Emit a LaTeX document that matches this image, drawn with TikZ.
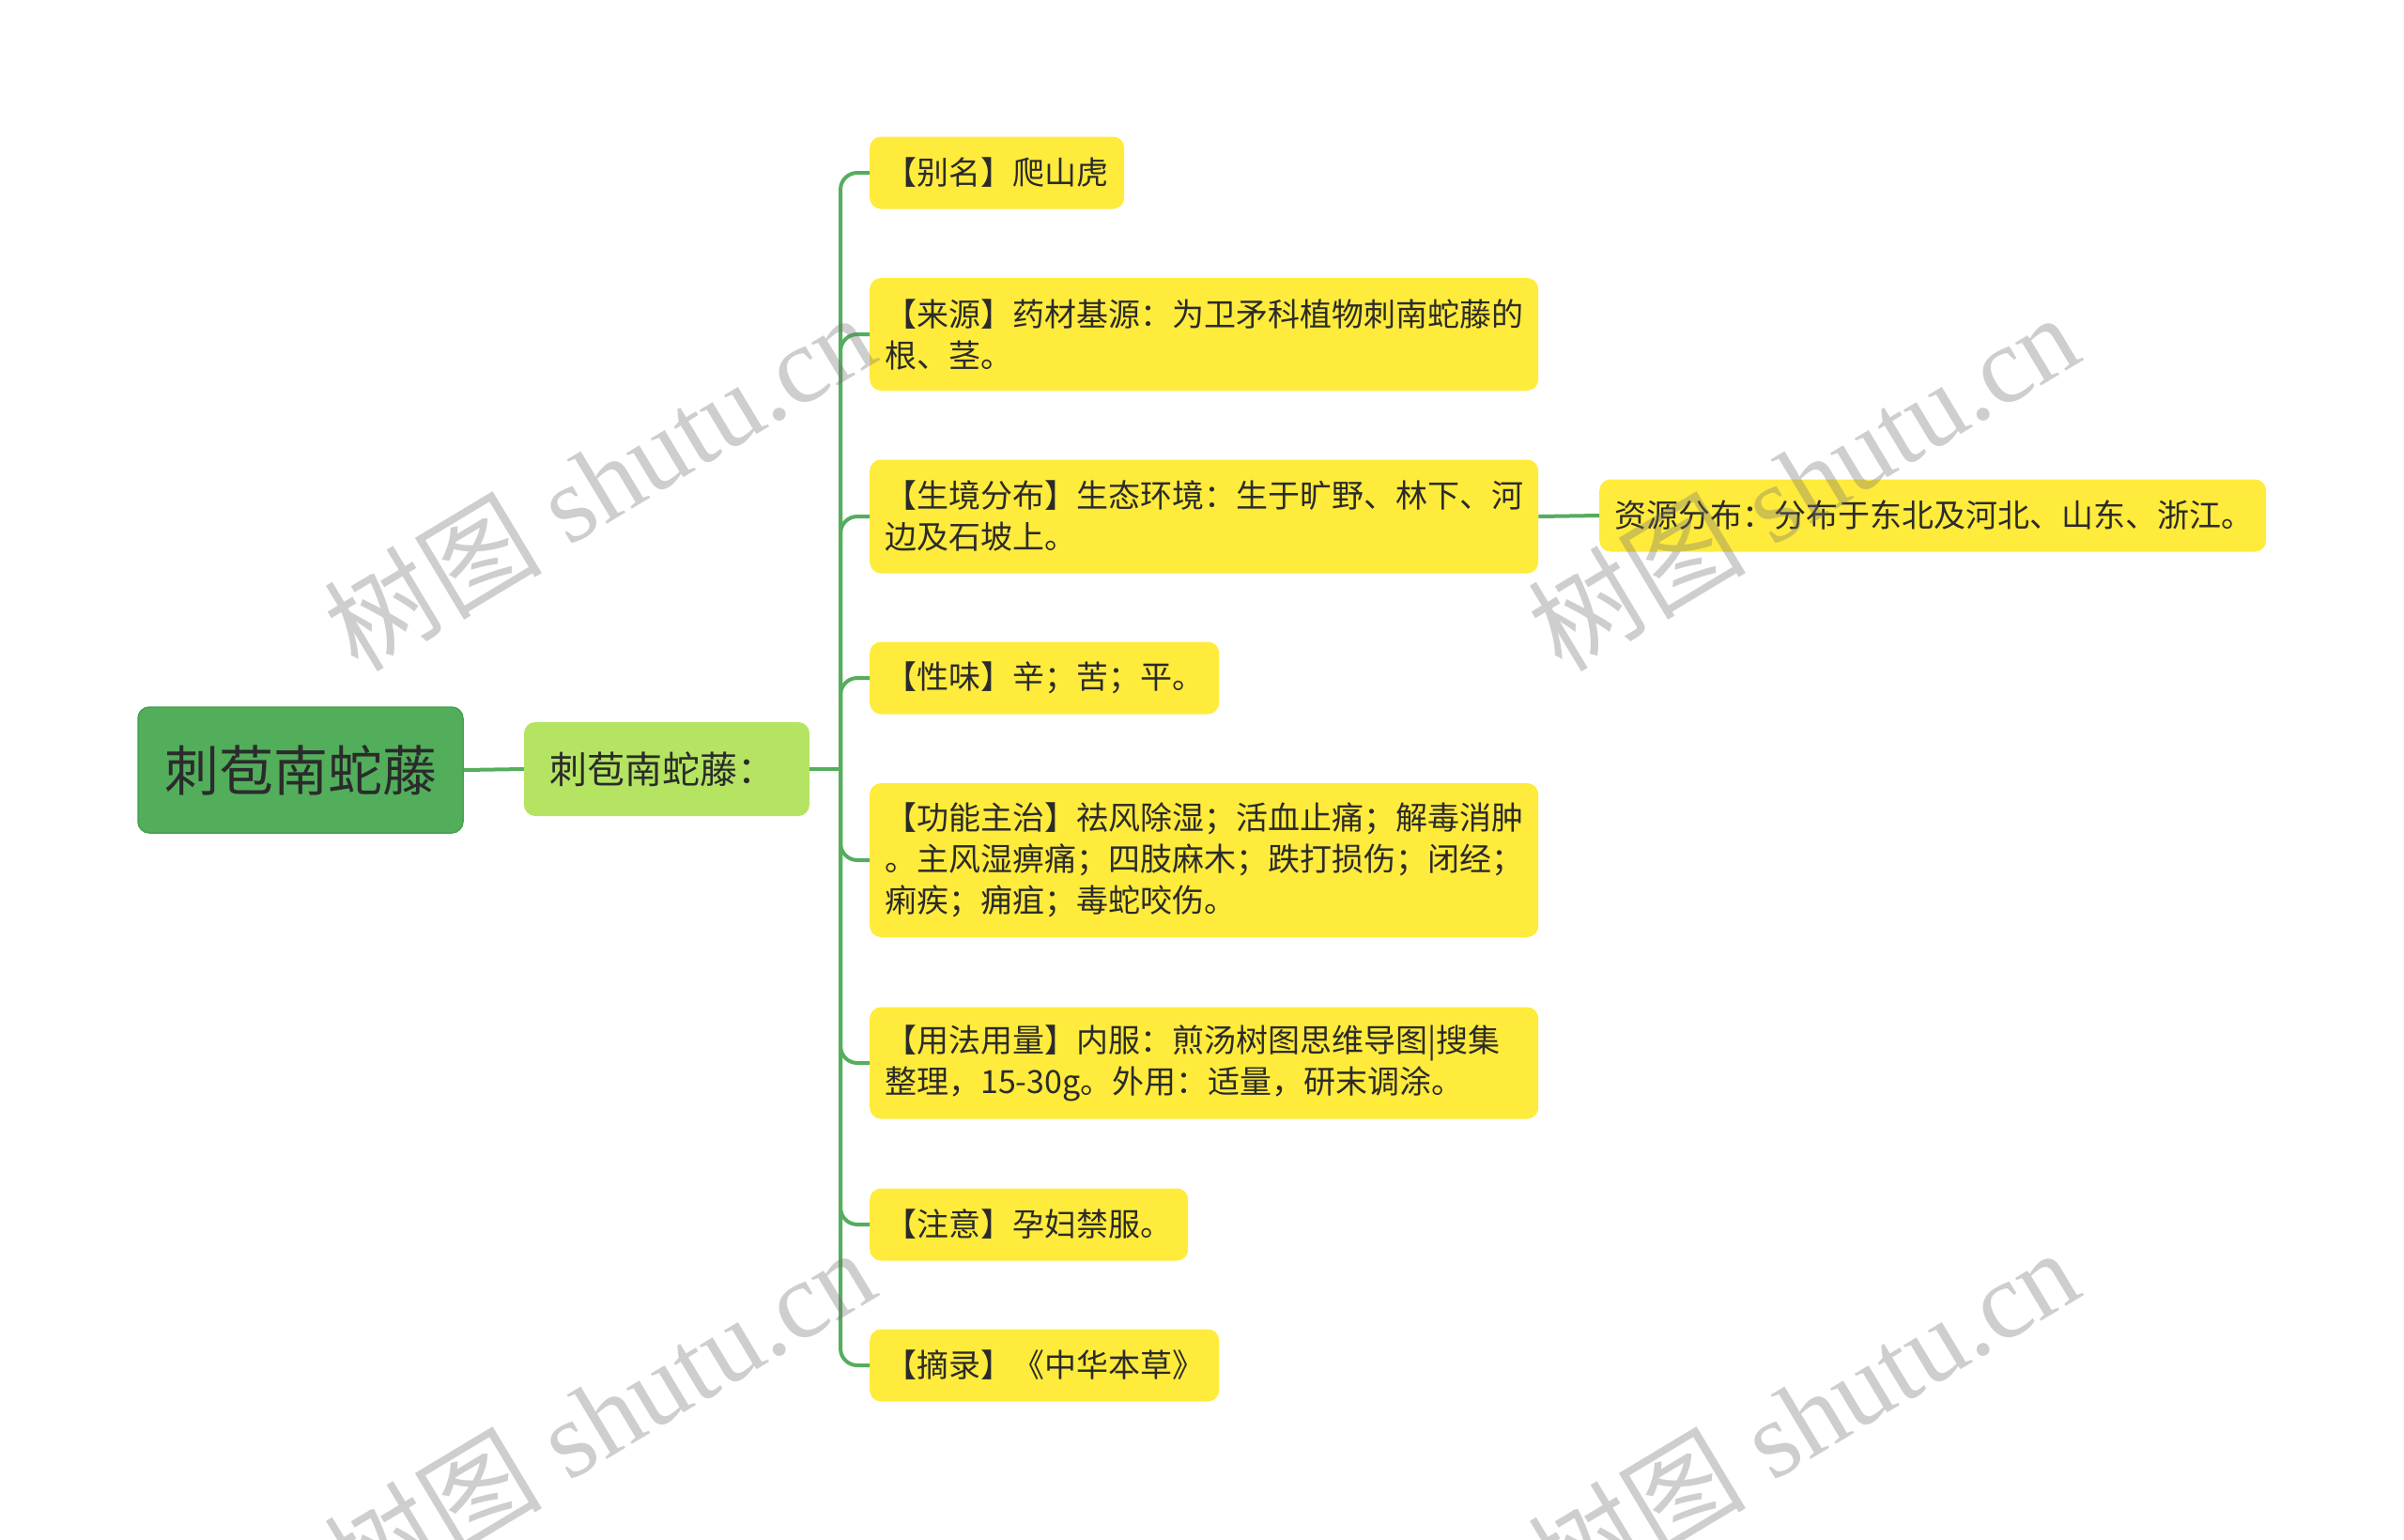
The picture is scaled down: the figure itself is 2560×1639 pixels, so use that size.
\documentclass[tikz,border=0pt]{standalone}
\usepackage{fontspec}
\setmainfont{Noto Sans CJK SC}
\newfontfamily\wmlatin{Liberation Serif}
\newfontfamily\wmcjk{Noto Sans CJK SC}
\definecolor{leafyellow}{HTML}{FFEB3B}
\definecolor{rootgreen}{HTML}{52AE5B}
\definecolor{rootborder}{HTML}{46A04F}
\definecolor{subgreen}{HTML}{B5E462}
\definecolor{linegreen}{HTML}{55AD5E}
\definecolor{textdark}{HTML}{2B2B2B}
\begin{document}
\begin{tikzpicture}[x=1pt,y=-1pt,
  leaf/.style={rectangle, rounded corners=12pt, fill=leafyellow, anchor=west,
    inner xsep=16pt, inner ysep=0pt, align=left, text=textdark,
    font=\fontsize{34}{44}\selectfont},
  rootbox/.style={rectangle, rounded corners=12pt, fill=rootgreen, draw=rootborder, line width=1.5pt,
    inner sep=0pt, text=textdark, font=\fontsize{58}{64}\selectfont},
  subbox/.style={rectangle, rounded corners=12pt, fill=subgreen,
    inner sep=0pt, text=textdark, font=\fontsize{40}{48}\selectfont},
  conn/.style={draw=linegreen, line width=4pt, rounded corners=18pt},
  wm/.style={text=black!55, opacity=0.35, rotate=31, inner sep=0pt}
]
\useasboundingbox (0,0) rectangle (2560,1639);

% central nodes
\node[rootbox, minimum width=346pt, minimum height=134pt] (root) at (320,820) {刺苞南蛇藤};
\node[subbox, minimum width=304pt, minimum height=100pt] (sub) at (710,819) {\hspace*{-10pt}刺苞南蛇藤：};

% leaves
\node[leaf, text width=239pt, minimum height=77pt] (c1) at (926,184) {【别名】爬山虎};
\node[leaf, text width=680pt, minimum height=120pt] (c2) at (926,356) {【来源】药材基源：为卫矛科植物刺南蛇藤的\\根、茎。};
\node[leaf, text width=680pt, minimum height=121pt] (c3) at (926,550) {【生境分布】生态环境：生于旷野、林下、河\\边及石坡上。};
\node[leaf, text width=340pt, minimum height=77pt] (c4) at (926,722) {【性味】辛；苦；平。};
\node[leaf, text width=680pt, minimum height=164pt] (c5) at (926,916) {【功能主治】祛风除湿；活血止痛；解毒消肿\\。主风湿痹痛；四肢麻木；跌打损伤；闭经；\\痢疾；痈疽；毒蛇咬伤。};
\node[leaf, text width=680pt, minimum height=119pt] (c6) at (926,1132) {【用法用量】内服：煎汤树图思维导图|搜集\\整理，15-30g。外用：适量，研末调涂。};
\node[leaf, text width=307pt, minimum height=77pt] (c7) at (926,1304) {【注意】孕妇禁服。};
\node[leaf, text width=340pt, minimum height=77pt] (c8) at (926,1454) {【摘录】《中华本草》};
\node[leaf, text width=678pt, minimum height=77pt] (c9) at (1703,549) {资源分布：分布于东北及河北、山东、浙江。};

% connectors
\coordinate (sp) at (895,819);
\draw[conn] (root.east) -- (sub.west);
\draw[conn] (sub.east) -- (sp);
\foreach \c in {c1,c2,c3,c4,c5,c6,c7,c8}{
  \draw[conn] (sp) |- (\c.west);
}
\draw[conn] (c3.east) -- (c9.west);

% watermarks
\foreach \p in {(638,512),(1920,512),(638,1508),(1920,1508)}{
  \node[wm] at \p {\fontsize{116}{116}\selectfont\wmcjk 树图\wmlatin\ shutu.cn};
}
\end{tikzpicture}
\end{document}
